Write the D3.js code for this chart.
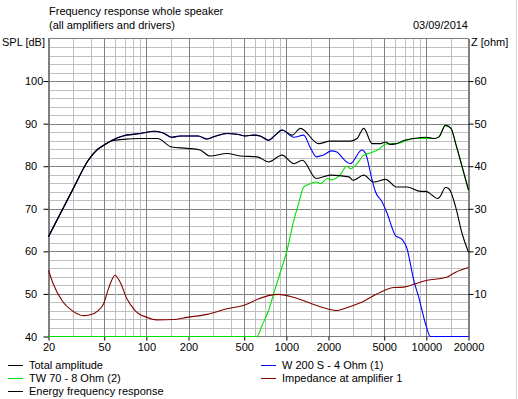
<!DOCTYPE html>
<html lang="en">
<head>
  <meta charset="UTF-8">
  <title>Frequency response whole speaker</title>
  <script src="https://cdnjs.cloudflare.com/ajax/libs/d3/7.8.5/d3.min.js"></script>
  <style>
    body { margin: 0; background: #fff; }
    text { font-family: "Liberation Sans", Arial, sans-serif; font-size: 11px; fill: #000; }
  </style>
</head>
<body>
    <div id="graph"></div>

    <script>

            // readings (Hz / dB, impedance in ohm)
            var totalFreq = [20, 30, 38.5, 45, 50, 57, 68, 91, 115, 132, 152, 174, 235, 270, 303, 376, 445, 510, 585, 650, 746, 834, 932, 1100, 1260, 1700, 2060, 2870, 3200, 3570, 4100, 4700, 5130, 5500, 6100, 7000, 8100, 10000, 11300, 12300, 13700, 15000, 16200, 17900, 20000]
            var totalDb   = [63.5, 74.7, 81.4, 84.0, 85.0, 86.1, 87.1, 87.7, 88.2, 87.8, 86.8, 87.1, 87.1, 86.4, 86.9, 87.7, 87.5, 87.1, 87.3, 87.1, 86.1, 87.3, 88.5, 87.3, 88.9, 85.3, 85.9, 85.9, 86.5, 88.9, 85.3, 85.3, 85.7, 85.1, 85.3, 86.1, 86.5, 86.8, 86.5, 86.9, 89.6, 88.9, 85.3, 80.2, 74.4]

            var energyFreq = [20, 30, 38.5, 45, 50, 57, 68, 91, 120, 152, 195, 242, 285, 376, 468, 620, 746, 932, 1130, 1300, 1640, 2060, 2800, 3000, 3570, 4200, 5130, 6100, 7300, 9100, 9900, 11000, 12000, 12600, 13700, 14500, 16200, 18000, 20000]
            var energyDb   = [63.5, 74.7, 81.4, 84.0, 85.0, 86.0, 86.3, 86.5, 86.5, 84.5, 84.2, 83.8, 82.4, 83.0, 82.4, 82.2, 81.0, 82.6, 80.6, 81.4, 77.1, 77.9, 77.5, 76.7, 77.9, 76.3, 76.9, 75.1, 75.1, 74.1, 74.1, 73.2, 72.4, 73.0, 75.0, 74.7, 70.4, 64.2, 59.8]

            var wooferFreq = [20, 30, 38.5, 45, 50, 57, 68, 91, 115, 132, 152, 174, 235, 270, 303, 376, 445, 510, 585, 650, 746, 834, 932, 1130, 1330, 1475, 1640, 1830, 2100, 2270, 2700, 2870, 3460, 3680, 4100, 4330, 4830, 5250, 6020, 6700, 7300, 7600, 8130, 8830, 9860, 10700, 20000]
            var wooferDb   = [63.5, 74.7, 81.4, 84.0, 85.0, 86.1, 87.1, 87.7, 88.2, 87.8, 86.8, 87.1, 87.1, 86.4, 86.9, 87.7, 87.5, 87.1, 87.3, 87.1, 86.1, 87.3, 88.5, 86.8, 87.3, 84.5, 82.2, 82.6, 83.6, 83.4, 81.0, 80.6, 83.8, 83.0, 76.7, 74.0, 71.6, 68.9, 63.7, 62.8, 60.5, 57.9, 53.2, 49.2, 43.0, 40.0, 40.0]

            var tweeterFreq = [20, 617, 670, 746, 811, 906, 1011, 1130, 1224, 1330, 1485, 1640, 1750, 1960, 2100, 2430, 2700, 2870, 3200, 3570, 3950, 4500, 5130, 5500, 6100, 7300, 8100, 11300, 12300, 13700, 15000, 16200, 17900, 20000]
            var tweeterDb   = [40.0, 40.0, 42.6, 46.1, 50.0, 55.1, 60.2, 67.3, 71.2, 75.1, 75.9, 76.3, 75.9, 77.1, 76.8, 78.0, 80.0, 79.4, 80.6, 82.6, 83.1, 83.8, 85.2, 85.3, 85.3, 86.1, 86.5, 86.5, 86.9, 89.6, 88.9, 85.3, 80.2, 74.4]

            var impFreq = [20, 21.6, 24.9, 30, 35.5, 39.6, 45.3, 49.5, 53.6, 59.8, 64.9, 72.5, 83.1, 100.8, 118.8, 156, 195, 271, 376, 494, 620, 746, 881, 1130, 1406, 1848, 2303, 2700, 3380, 4700, 5850, 6900, 8370, 10150, 13000, 14100, 16200, 20000]
            var impOhm  = [15.5, 12.4, 8.5, 5.9, 4.9, 5.1, 6.1, 7.7, 11.2, 14.4, 12.8, 8.9, 6.1, 4.5, 3.9, 4.0, 4.5, 5.2, 6.5, 7.3, 8.7, 9.6, 9.9, 9.2, 8.1, 6.75, 6.1, 6.75, 7.9, 10.4, 11.5, 11.6, 12.4, 13.2, 13.7, 14.0, 15.1, 16.2]

            var xTickValues = [20, 50, 100, 200, 500, 1000, 2000, 5000, 10000, 20000]
            var xMinorValues = [30, 40, 60, 70, 80, 90, 150, 300, 400, 600, 700, 800, 900, 1500, 3000, 4000, 6000, 7000, 8000, 9000, 15000]
            var splTicks = [40, 50, 60, 70, 80, 90, 100]
            var zTicks = [10, 20, 30, 40, 50, 60]

            var legendItems = [
                {name: "Total amplitude", color: "#000000", col: 0, row: 0},
                {name: "TW 70 - 8 Ohm (2)", color: "#00e000", col: 0, row: 1},
                {name: "Energy frequency response", color: "#000000", col: 0, row: 2},
                {name: "W 200 S - 4 Ohm (1)", color: "#0000ff", col: 1, row: 0},
                {name: "Impedance at amplifier 1", color: "#800000", col: 1, row: 1}
            ]

            var plotLeft = 48.5, plotRight = 468.5, plotTop = 38.5, plotBottom = 336.5

            var svg = d3.select("#graph")
                    .append("svg")
                    .attr("width", 518)
                    .attr("height", 399)

            var x = d3.scaleLog().domain([20, 20000]).range([plotLeft, plotRight])
            var y = d3.scaleLinear().domain([40, 110]).range([plotBottom, plotTop])
            var yZ = d3.scaleLinear().domain([0, 70]).range([plotBottom, plotTop])

            // grid
            var grid = svg.append("g").attr("shape-rendering", "crispEdges")

            d3.range(42, 110, 2).forEach(v => {
                grid.append("line")
                    .attr("x1", plotLeft).attr("x2", plotRight)
                    .attr("y1", Math.round(y(v)) + 0.5).attr("y2", Math.round(y(v)) + 0.5)
                    .style("stroke", v % 10 == 0 ? "#808080" : "#c0c0c0")
            })

            xMinorValues.forEach(f => {
                grid.append("line")
                    .attr("x1", Math.round(x(f)) + 0.5).attr("x2", Math.round(x(f)) + 0.5)
                    .attr("y1", plotTop).attr("y2", plotBottom)
                    .style("stroke", "#c0c0c0")
            })
            xTickValues.forEach(f => {
                grid.append("line")
                    .attr("x1", Math.round(x(f)) + 0.5).attr("x2", Math.round(x(f)) + 0.5)
                    .attr("y1", plotTop).attr("y2", plotBottom)
                    .style("stroke", "#808080")
            })

            grid.append("rect")
                .attr("x", plotLeft).attr("y", plotTop)
                .attr("width", plotRight - plotLeft).attr("height", plotBottom - plotTop)
                .style("fill", "none")
                .style("stroke", "#808080")

            // axes
            var xAxis = svg.append("g")
                .attr("transform", "translate(0," + plotBottom + ")")
                .call(d3.axisBottom(x).tickValues(xTickValues).tickFormat(d3.format("d")).tickSize(4).tickPadding(3))
            xAxis.select(".domain").remove()
            xAxis.selectAll("line").style("stroke", "#000")
            xAxis.selectAll("text").style("font-size", "11px").style("font-family", "Liberation Sans, Arial, sans-serif")

            var yAxis = svg.append("g")
                .attr("transform", "translate(" + plotLeft + ",0)")
                .call(d3.axisLeft(y).tickValues(splTicks).tickSize(5).tickFormat(d3.format("d")))
            yAxis.select(".domain").remove()
            yAxis.selectAll("line").style("stroke", "#000")
            yAxis.selectAll("text")
                .attr("x", 25 - plotLeft)
                .attr("text-anchor", "start")
                .style("font-size", "11px").style("font-family", "Liberation Sans, Arial, sans-serif")

            var zAxis = svg.append("g")
                .attr("transform", "translate(" + plotRight + ",0)")
                .call(d3.axisRight(yZ).tickValues(zTicks).tickSize(5).tickPadding(1))
            zAxis.select(".domain").remove()
            zAxis.selectAll("line").style("stroke", "#000")
            zAxis.selectAll("text").style("font-size", "11px").style("font-family", "Liberation Sans, Arial, sans-serif")

            // titles
            svg.append("text").attr("x", 49).attr("y", 15).text("Frequency response whole speaker")
            svg.append("text").attr("x", 49).attr("y", 29).text("(all amplifiers and drivers)")
            svg.append("text").attr("x", 468).attr("y", 29).attr("text-anchor", "end").text("03/09/2014")
            svg.append("text").attr("x", 2).attr("y", 46).text("SPL [dB]")
            svg.append("text").attr("x", 471).attr("y", 46).text("Z [ohm]")

            // curves
            function drawCurve(freqs, vals, scale, color) {
                var pts = freqs.map((f, i) => [f, vals[i]])
                var line = d3.line()
                    .x(d => x(d[0]))
                    .y(d => scale(d[1]))
                    .curve(d3.curveMonotoneX)
                svg.append("path")
                    .datum(pts)
                    .attr("d", line)
                    .style("fill", "none")
                    .style("stroke", color)
                    .style("stroke-width", 1.1)
            }

            drawCurve(wooferFreq, wooferDb, y, "#0000ff")
            drawCurve(tweeterFreq, tweeterDb, y, "#00e000")
            drawCurve(impFreq, impOhm, yZ, "#800000")
            drawCurve(energyFreq, energyDb, y, "#000000")
            drawCurve(totalFreq, totalDb, y, "#000000")

            // legend
            legendItems.forEach(item => {
                var lx = item.col == 0 ? 8 : 261
                var ly = 365 + item.row * 13
                svg.append("line")
                    .attr("x1", lx).attr("x2", lx + 15)
                    .attr("y1", ly + 0.5).attr("y2", ly + 0.5)
                    .style("stroke", item.color)
                svg.append("text")
                    .attr("x", lx + 21)
                    .attr("y", ly + 4)
                    .text(item.name)
            })

            // right frame line
            svg.append("line")
                .attr("x1", 516.5).attr("x2", 516.5)
                .attr("y1", 0).attr("y2", 399)
                .style("stroke", "#d4d4d4")
    </script>

</body>
</html>
